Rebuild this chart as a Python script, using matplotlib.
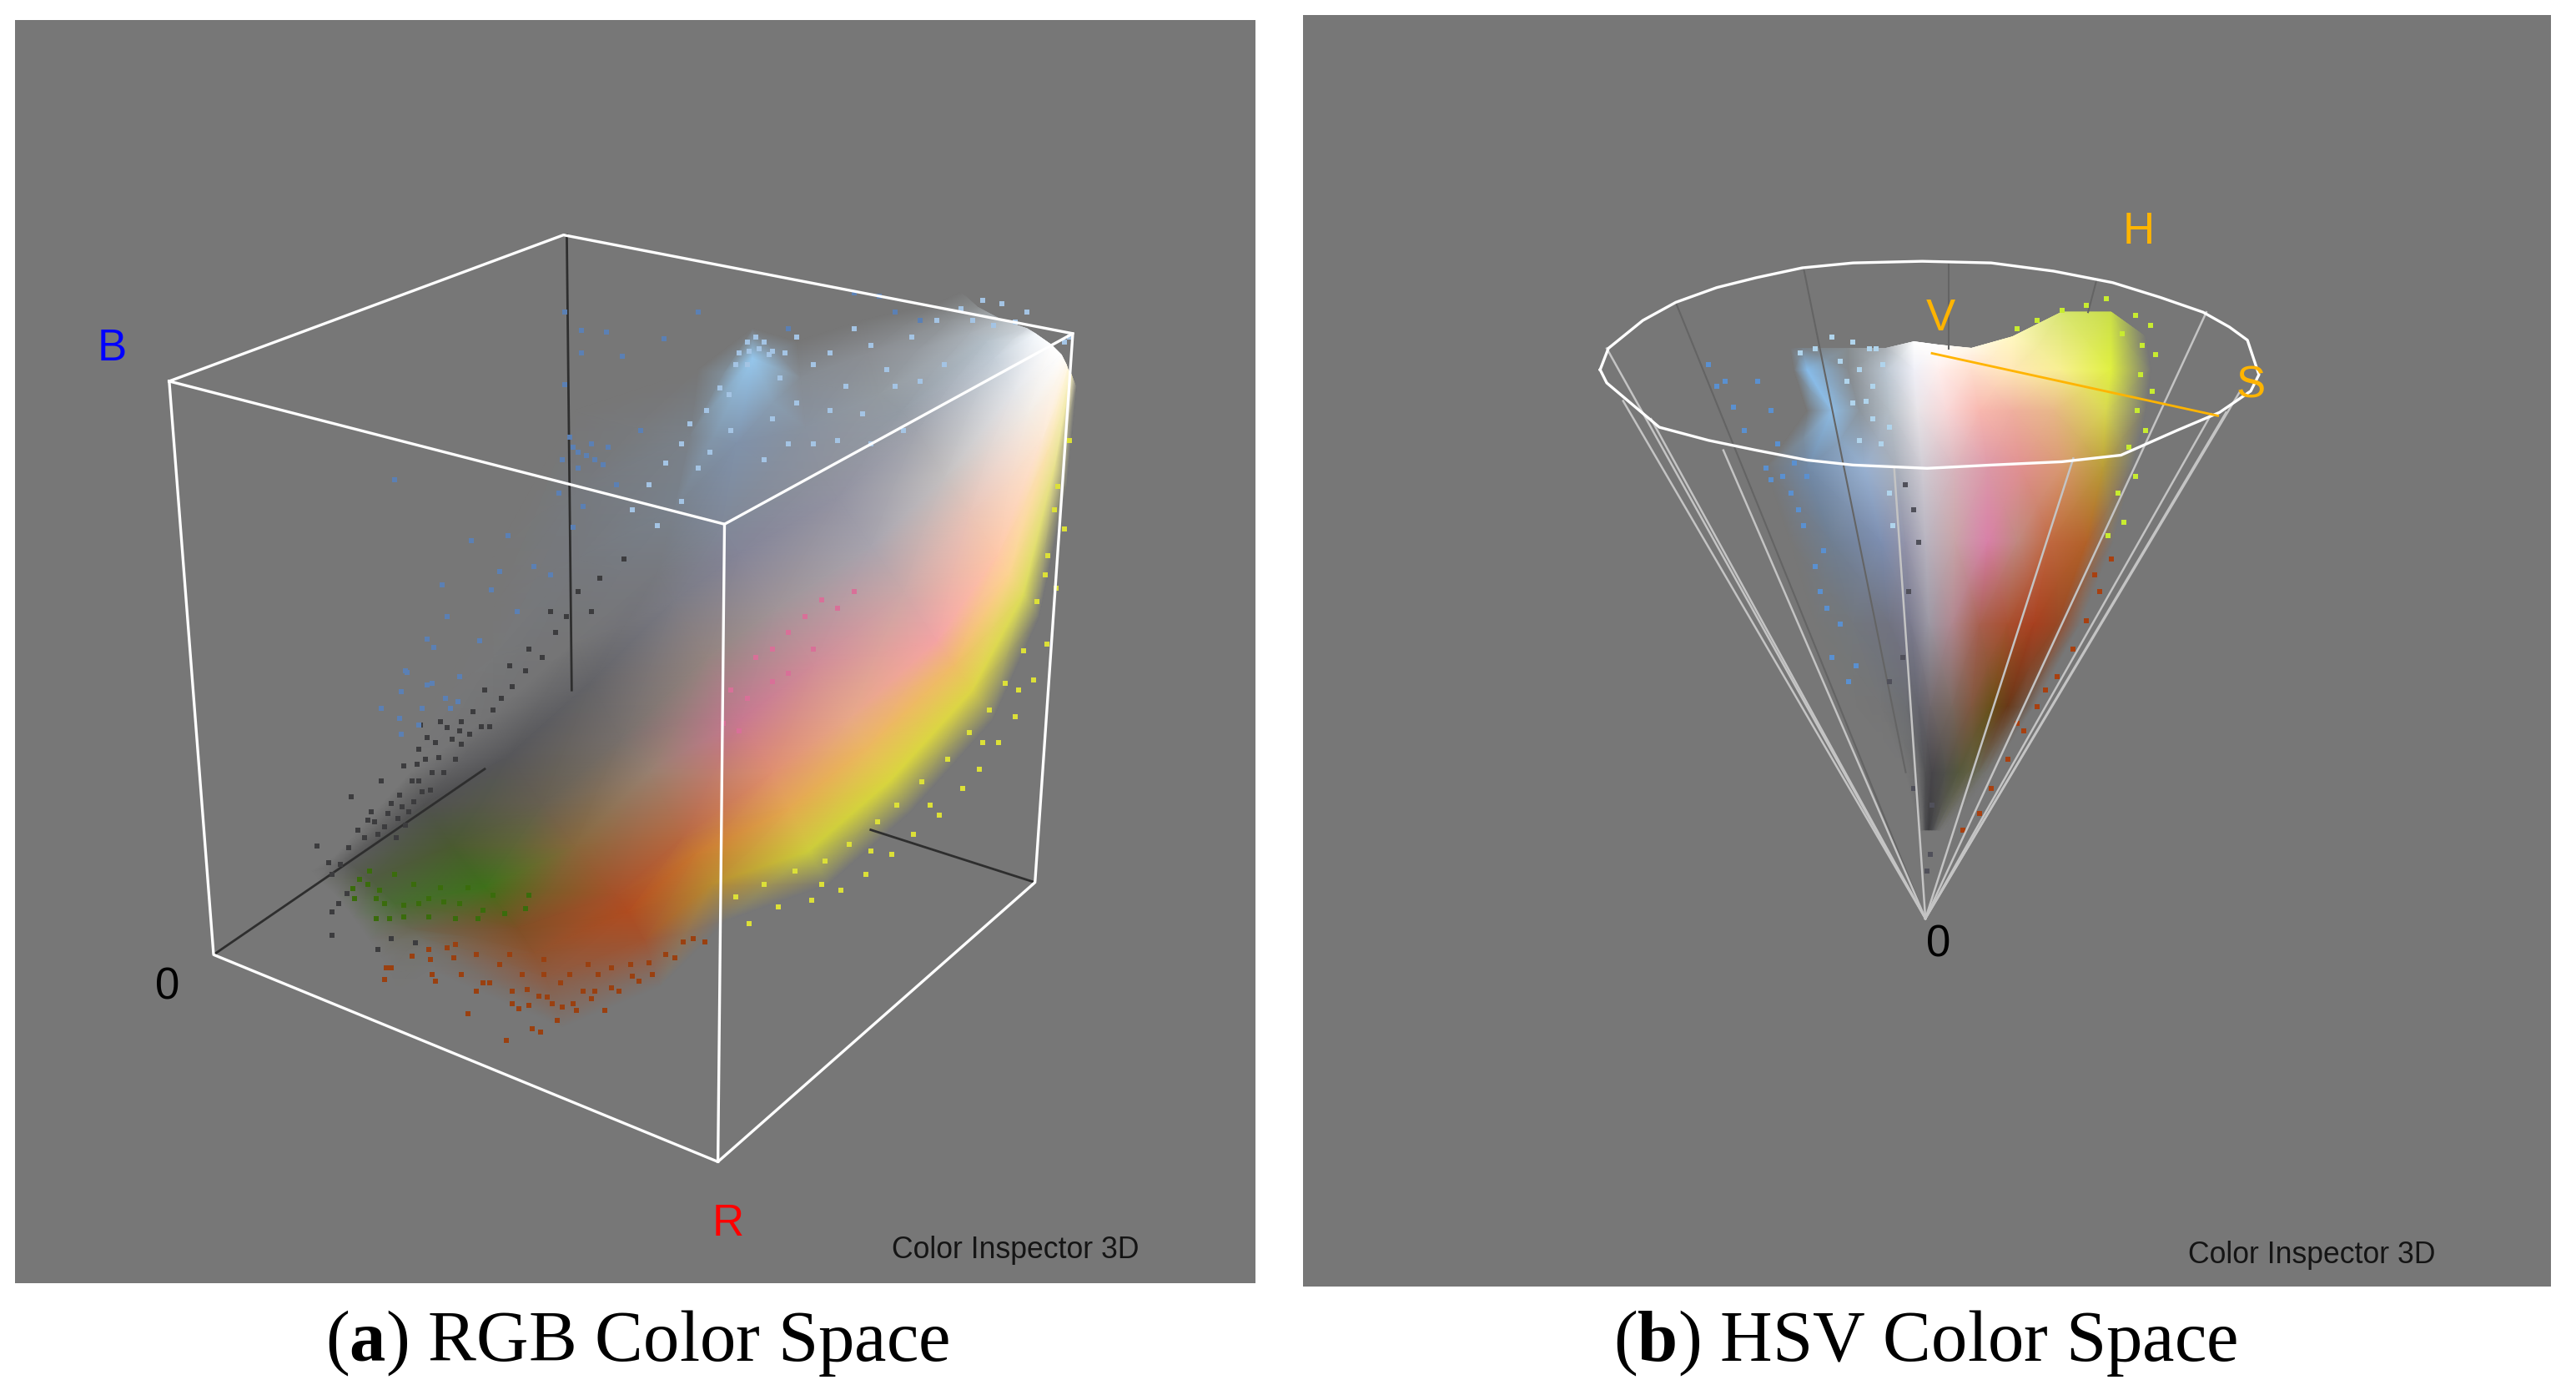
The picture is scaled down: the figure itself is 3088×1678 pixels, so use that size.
import matplotlib
matplotlib.use("Agg")
import matplotlib.pyplot as plt
import numpy as np
from matplotlib.colors import to_rgb

plt.rcParams["mathtext.fontset"] = "custom"
plt.rcParams["mathtext.rm"] = "Liberation Serif"
plt.rcParams["mathtext.bf"] = "Liberation Serif:bold"

panel_grey = "#777777"

# --- left panel: RGB cube ---
cube_front = [[(103, 232), (343, 143), (653, 203), (441, 319), (103, 232)],
              [(103, 232), (130, 581), (437, 707), (630, 537), (653, 203)],
              [(441, 319), (437, 707)]]
cube_back = [[(345, 143), (348, 420)], [(130, 581), (295, 468)], [(630, 537), (530, 505)]]

rgb_x = [[585, 595, 610, 625, 630, 640, 646, 649, 650, 652, 655],
         [570, 578, 590, 600, 605, 617, 625, 634, 638, 642, 649],
         [525, 528, 535, 549, 558, 575, 590, 607, 614, 623, 632],
         [485, 487, 490, 499, 510, 530, 550, 570, 581, 592, 604],
         [458, 458, 448, 439, 450, 472, 495, 517, 528, 542, 554],
         [425, 420, 410, 400, 410, 430, 450, 470, 480, 492, 504],
         [350, 350, 352, 350, 360, 378, 395, 415, 423, 433, 442],
         [300, 300, 300, 300, 310, 330, 350, 375, 382, 392, 402],
         [250, 250, 250, 250, 258, 275, 295, 315, 325, 332, 342],
         [205, 205, 205, 205, 212, 225, 240, 250, 255, 258, 262],
         [190, 190, 190, 190, 194, 205, 215, 225, 232, 238, 242]]
rgb_y = [[178, 187, 195, 200, 203, 210, 216, 222, 225, 228, 236],
         [185, 195, 203, 208, 218, 238, 252, 268, 274, 284, 296],
         [195, 215, 240, 250, 262, 290, 312, 338, 350, 362, 376],
         [208, 230, 260, 288, 303, 332, 360, 390, 405, 420, 438],
         [200, 218, 270, 320, 337, 370, 405, 437, 455, 475, 494],
         [225, 265, 310, 348, 366, 400, 439, 470, 492, 518, 538],
         [250, 300, 340, 391, 415, 450, 470, 510, 520, 538, 560],
         [340, 370, 400, 435, 460, 490, 515, 545, 555, 572, 600],
         [440, 450, 460, 470, 490, 515, 540, 565, 580, 595, 625],
         [505, 510, 515, 520, 525, 535, 550, 565, 570, 575, 590],
         [518, 522, 526, 530, 535, 545, 558, 572, 582, 592, 602]]
rgb_c = [["#dde8f0", "#dde8f0", "#dde8f0", "#e8eef4", "#f4f8fc", "#ffffff", "#ffffff", "#fffaf0", "#fff8e0", "#f8f0c0", "#f8f0c0"],
         ["#c8d4e0", "#c8d4e0", "#c8d4e0", "#c8d8e4", "#d0dce8", "#e4e6ea", "#f2ece6", "#fde8d4", "#fae4b0", "#f4ee90", "#e8e858"],
         ["#b8c4d4", "#b8c4d4", "#b0bcc8", "#a8b4c4", "#b0b4c0", "#c4c0c0", "#e8c4b8", "#ffc8a8", "#fcd490", "#e8e858", "#e8e858"],
         ["#a8bcd4", "#a8bcd4", "#a0b4d0", "#a0a8bc", "#9c9cb0", "#a8a4ae", "#cca8a8", "#f4a4a4", "#f0bc68", "#e8e040", "#e8e040"],
         ["#98ccf4", "#98ccf4", "#88a8d4", "#8898b8", "#8888a0", "#a09498", "#d08c98", "#e8a888", "#ecb860", "#e4e038", "#e4e038"],
         ["#88a8d0", "#88a8d0", "#7f9fc8", "#7880a0", "#7c7c88", "#948480", "#c87890", "#e09070", "#e4a850", "#dcdc30", "#dcdc30"],
         ["#6f8fc0", "#6f8fc0", "#6f8fc0", "#686870", "#5c5c62", "#78706c", "#988070", "#b86840", "#c87830", "#c89020", "#c89020"],
         ["#6f8fc0", "#6f8fc0", "#6f8fc0", "#505054", "#4c4c50", "#686050", "#88683c", "#a85028", "#b04c20", "#b04818", "#b04818"],
         ["#555558", "#555558", "#555558", "#444446", "#404042", "#4a5a30", "#387010", "#804818", "#984410", "#a04010", "#a04010"],
         ["#333333", "#333333", "#333333", "#333333", "#333333", "#3a4a20", "#2c6408", "#504810", "#504810", "#504810", "#504810"],
         ["#333333", "#333333", "#333333", "#333333", "#333333", "#3a4a20", "#2c6408", "#504810", "#504810", "#504810", "#504810"]]
rgb_a = [[0, .2, .6, .8, 1, 1, 1, 1, 1, 1, 0],
         [0, .3, .6, .75, .85, 1, 1, 1, 1, .9, 0],
         [0, .3, .5, .6, .75, 1, 1, 1, 1, .9, 0],
         [0, .3, .45, .55, .75, 1, 1, 1, 1, .9, 0],
         [0, .95, .55, .5, .8, 1, 1, 1, 1, .9, 0],
         [0, .2, .25, .2, .75, 1, 1, 1, 1, .85, 0],
         [0, .1, .1, .15, .7, 1, 1, 1, 1, .8, 0],
         [0, 0, .03, .1, .75, 1, 1, 1, 1, .75, 0],
         [0, 0, 0, 0, .7, 1, .9, .85, .7, .5, 0],
         [0, 0, 0, 0, .4, .6, .6, .35, .2, .1, 0],
         [0, 0, 0, 0, 0, 0, 0, 0, 0, 0, 0]]

a_dark = [(214, 485), (232, 475), (226, 494), (238, 489), (224, 499), (222, 510), (212, 516),
          (200, 525), (207, 526), (202, 532), (193, 515), (243, 484), (251, 475), (246, 466),
          (255, 456), (254, 465), (260, 449), (265, 452), (275, 450), (272, 443), (268, 439),
          (256, 441), (281, 453), (288, 433), (281, 439), (298, 442), (293, 442), (259, 462),
          (267, 461), (277, 462), (245, 491), (257, 482), (262, 481), (252, 488), (242, 498),
          (234, 503), (230, 508), (249, 494), (202, 569), (202, 555), (206, 550), (211, 544),
          (238, 571), (230, 578), (253, 574), (218, 505), (228, 500), (236, 495), (241, 510),
          (247, 502), (255, 475), (263, 470), (270, 470), (280, 445), (286, 447), (305, 425),
          (312, 418), (320, 408), (300, 432), (295, 420), (330, 400), (338, 385), (345, 375),
          (310, 405), (322, 395), (335, 372), (352, 360), (365, 352), (380, 340), (360, 372)]
a_blue = [(248, 409), (260, 417), (263, 416), (244, 421), (232, 431), (257, 431), (271, 425),
          (274, 431), (279, 427), (243, 437), (244, 447), (255, 441), (240, 292), (287, 329),
          (272, 375), (264, 394), (247, 408), (260, 389), (299, 359), (304, 348), (269, 356),
          (309, 326), (349, 321), (344, 190), (354, 201), (369, 202), (354, 215), (379, 217),
          (344, 234), (404, 206), (349, 272), (357, 277), (362, 280), (352, 285), (347, 266),
          (367, 283), (325, 345), (315, 372), (335, 350), (292, 390), (280, 412), (340, 300),
          (355, 308), (375, 295), (390, 262), (425, 190), (520, 178), (535, 180), (560, 195),
          (545, 190), (480, 200), (352, 275), (360, 270), (342, 280), (370, 272)]
a_light = [(450, 215), (455, 208), (460, 205), (465, 208), (470, 214), (448, 222), (455, 222),
           (462, 212), (456, 214), (468, 216), (475, 230), (444, 240), (438, 236), (478, 215),
           (485, 205), (495, 222), (505, 215), (520, 200), (530, 210), (515, 235), (540, 225),
           (555, 205), (570, 195), (585, 188), (598, 183), (610, 185), (625, 190), (592, 195),
           (605, 198), (618, 196), (430, 250), (420, 258), (415, 270), (405, 282), (432, 275),
           (425, 285), (445, 262), (470, 255), (485, 245), (505, 250), (525, 252), (545, 235),
           (560, 232), (575, 222), (395, 295), (385, 310), (400, 320), (415, 305), (465, 280),
           (480, 270), (495, 270), (510, 268), (530, 270), (550, 262), (651, 205), (648, 208)]
a_green = [(219, 535), (229, 547), (231, 542), (234, 550), (246, 551), (255, 550), (261, 547),
           (270, 549), (280, 550), (294, 554), (229, 559), (237, 559), (246, 558), (261, 558),
           (277, 559), (291, 559), (307, 556), (320, 553), (224, 538), (215, 541), (216, 547),
           (225, 530), (240, 532), (252, 538), (268, 540), (285, 540), (300, 545), (322, 545)]
a_brown = [(308, 633), (329, 628), (324, 626), (285, 617), (339, 621), (368, 615), (351, 615),
           (322, 612), (316, 614), (312, 611), (336, 611), (342, 613), (360, 608), (349, 611),
           (355, 603), (333, 607), (328, 606), (312, 603), (321, 602), (290, 603), (298, 598),
           (294, 598), (265, 597), (263, 593), (281, 593), (234, 596), (237, 589), (235, 589),
           (238, 589), (389, 597), (397, 593), (377, 603), (372, 601), (385, 594), (362, 603),
           (341, 598), (331, 593), (347, 593), (364, 593), (318, 593), (304, 587), (276, 583),
           (262, 584), (251, 582), (372, 589), (395, 586), (411, 583), (405, 581), (429, 573),
           (422, 571), (416, 573), (384, 587), (358, 587), (331, 584), (310, 581), (290, 581),
           (277, 575), (272, 577), (261, 578)]
a_yellow = [(651, 268), (644, 296), (648, 322), (638, 338), (643, 358), (631, 366), (637, 392),
            (623, 396), (629, 414), (612, 416), (618, 436), (602, 432), (608, 452), (590, 446),
            (596, 468), (577, 462), (586, 480), (561, 476), (572, 496), (546, 490), (556, 508),
            (534, 500), (543, 520), (517, 514), (527, 532), (502, 524), (512, 542), (484, 530),
            (494, 548), (465, 538), (474, 552), (448, 546), (456, 562), (636, 350), (620, 420),
            (598, 452), (566, 490), (530, 518), (500, 538), (642, 310)]
a_pink = [(460, 400), (470, 395), (480, 385), (490, 375), (500, 365), (445, 420), (455, 425),
          (470, 415), (480, 410), (495, 395), (510, 370), (520, 360), (440, 440), (450, 445)]

# --- right panel: HSV cone ---
rim_x = [974, 979, 1000, 1020, 1045, 1069, 1097, 1128, 1170, 1212, 1250, 1286, 1315, 1341, 1357, 1368, 1375, 1370,
         1351, 1325, 1291, 1255, 1212, 1173, 1128, 1100, 1069, 1040, 1010, 978, 974]
rim_y = [225, 212, 195, 184, 175, 169, 163, 160, 159, 160, 165, 172, 181, 190, 199, 207, 228, 238,
         251, 262, 277, 281, 283, 285, 283, 280, 274, 268, 260, 233, 225]
cone_apex = (1172, 559)
cone_front = [(978, 212), (988, 244), (1005, 255), (1049, 274), (1153, 285), (1262, 279),
              (1343, 190), (1346, 252), (1355, 251), (1363, 239)]
cone_back = [[(1020, 184), (1172, 559)], [(1098, 164), (1160, 470)],
             [(1186, 161), (1186, 212)], [(1276, 171), (1271, 190)]]

hsv_x = [[1090, 1097, 1125, 1148, 1165, 1180, 1200, 1225, 1255, 1285, 1306],
         [1092, 1100, 1125, 1148, 1165, 1180, 1200, 1225, 1255, 1285, 1309],
         [1100, 1115, 1132, 1150, 1167, 1185, 1205, 1225, 1250, 1282, 1306],
         [1075, 1100, 1135, 1155, 1170, 1190, 1210, 1230, 1255, 1280, 1298],
         [1090, 1115, 1145, 1160, 1172, 1190, 1210, 1228, 1248, 1270, 1286],
         [1105, 1128, 1150, 1163, 1174, 1188, 1205, 1222, 1238, 1252, 1266],
         [1130, 1145, 1160, 1168, 1175, 1188, 1200, 1212, 1222, 1230, 1238],
         [1150, 1160, 1168, 1172, 1176, 1184, 1192, 1198, 1204, 1208, 1212],
         [1165, 1168, 1170, 1172, 1174, 1176, 1178, 1180, 1182, 1184, 1186]]
hsv_y = [[212, 212, 212, 212, 208, 210, 212, 205, 190, 190, 205],
         [225] * 11, [250] * 11, [285] * 11, [330] * 11, [380] * 11, [430] * 11, [470] * 11, [505] * 11]
hsv_c = [["#88c0f0", "#88c0f0", "#c0dff0", "#e0ecf8", "#ffffff", "#ffffff", "#fff8e8", "#fff8c0", "#e8f870", "#d8f040", "#d0f030"],
         ["#88c0f0", "#88c0f0", "#c0dcf0", "#d8e8f8", "#f0f0f8", "#fff0ee", "#ffe0d0", "#ffe8b8", "#f8f090", "#e0f040", "#d8f040"],
         ["#88c0f0", "#90c4f0", "#b4cce4", "#d0dce8", "#e8e4e8", "#f8d8d8", "#f8b8b0", "#f0b0a0", "#e8b888", "#d8d850", "#c8e020"],
         ["#5a98e0", "#6aa0e0", "#a0c0e8", "#c0c8d8", "#d0ccd4", "#d8b4bc", "#dc98a8", "#e09090", "#d89870", "#c0a030", "#b0b020"],
         ["#6090d0", "#6090d0", "#8098c8", "#a0a0c0", "#b8b4c0", "#c8a4a8", "#d880a8", "#c08880", "#c06840", "#b86020", "#a06018"],
         ["#5a78a0", "#5a78a0", "#686c90", "#7c7c98", "#9c98a4", "#b08890", "#a86050", "#a85030", "#a84020", "#a03c10", "#903010"],
         ["#505868", "#505868", "#505868", "#5c5c68", "#70686c", "#7a6860", "#805840", "#685018", "#683818", "#683818", "#683818"],
         ["#404044", "#404044", "#404044", "#404044", "#48464a", "#50504a", "#4c5030", "#505020", "#505020", "#505020", "#505020"],
         ["#303034", "#303034", "#303034", "#303034", "#303034", "#303034", "#303034", "#303034", "#303034", "#303034", "#303034"]]
hsv_a = [[0, .15, .2, .5, 1, 1, 1, 1, .85, .85, 0],
         [0, .95, .2, .7, 1, 1, 1, 1, 1, 1, 0],
         [0, .9, .35, .7, 1, 1, 1, 1, 1, 1, 0],
         [0, .45, .8, .7, 1, 1, 1, 1, 1, .9, 0],
         [0, .3, .7, .7, 1, 1, 1, 1, 1, .9, 0],
         [0, .15, .4, .7, 1, 1, 1, 1, 1, .8, 0],
         [0, .05, .25, .7, 1, 1, 1, 1, 1, .6, 0],
         [0, 0, .2, .7, 1, 1, .8, .6, .3, .1, 0],
         [0, 0, .1, .6, .8, .6, .3, .1, 0, 0, 0]]

b_blue = [(1040, 222), (1045, 235), (1050, 232), (1055, 248), (1062, 262), (1070, 232),
          (1078, 250), (1082, 270), (1075, 285), (1090, 300), (1098, 320), (1105, 345),
          (1112, 370), (1120, 380), (1115, 400), (1125, 415), (1108, 360), (1130, 405),
          (1085, 290), (1092, 282), (1100, 290), (1078, 292), (1095, 310), (1110, 335)]
b_light = [(1096, 215), (1105, 212), (1115, 205), (1128, 208), (1138, 212), (1120, 220), (1132, 225),
           (1140, 235), (1128, 245), (1140, 255), (1132, 268), (1145, 270), (1150, 300), (1152, 320),
           (1124, 232), (1136, 244), (1146, 222), (1142, 212), (1150, 260)]
b_green = [(1292, 203), (1300, 192), (1309, 198), (1304, 210), (1312, 216), (1303, 228), (1310, 238),
           (1301, 250), (1306, 262), (1296, 272), (1300, 290), (1289, 300), (1293, 318), (1283, 326),
           (1255, 189), (1270, 186), (1282, 182), (1240, 195), (1228, 200)]
b_red = [(1285, 340), (1278, 360), (1270, 378), (1262, 395), (1252, 412), (1240, 430), (1232, 445),
         (1222, 462), (1212, 480), (1205, 495), (1195, 505), (1275, 350), (1245, 420), (1228, 440)]
b_grey = [(1160, 295), (1165, 310), (1168, 330), (1162, 360), (1158, 400), (1150, 415),
          (1175, 520), (1173, 530), (1176, 490), (1165, 480)]

panels = [(9, 12, 755, 769), (793, 9, 760, 774)]
labels = [("B", 68, 212, "#0000ff"), ("0", 102, 601, "black"), ("R", 443, 745, "#ff0000"),
          ("V", 1181, 194, "#ffb400"), ("H", 1302, 141, "#ffb400"), ("S", 1370, 235, "#ffb400"),
          ("0", 1180, 575, "black")]
footers = [(618, 761), (1407, 764)]
captions = [(198, r"($\mathbf{a}$) RGB Color Space"), (982, r"($\mathbf{b}$) HSV Color Space")]


def draw_mesh(ax, xs, ys, colors, alphas, z):
    # fade to the panel grey rather than use real alpha, agg leaves seams otherwise
    bg = np.array(to_rgb(panel_grey))
    rgb = np.array([[to_rgb(c) for c in row] for row in colors])
    a = np.array(alphas, float)[:, :, None]
    rgb = rgb * a + bg * (1 - a)
    for i in range(3):
        ax.pcolormesh(np.array(xs, float), np.array(ys, float), rgb, shading="gouraud", zorder=z)


def specks(ax, pts, color, z=5):
    p = np.array(pts)
    ax.scatter(p[:, 0], p[:, 1], s=13, marker="s", c=color, linewidths=0, zorder=z)


fig = plt.figure(figsize=(30.88, 16.78), dpi=100, facecolor="white")
ax = fig.add_axes([0, 0, 1, 1])
ax.set_xlim(0, 1568)
ax.set_ylim(852, 0)
ax.axis("off")

for x, y, w, h in panels:
    ax.add_patch(plt.Rectangle((x, y), w, h, facecolor=panel_grey, edgecolor="none", zorder=0))

# left panel
draw_mesh(ax, rgb_x, rgb_y, rgb_c, rgb_a, 2)
for seg in cube_back:
    s = np.array(seg)
    ax.plot(s[:, 0], s[:, 1], color="#2e2e2e", lw=2, zorder=3)
specks(ax, a_dark, "#3c3c3e")
specks(ax, a_blue, "#5b80b4")
specks(ax, a_light, "#a4c4e4")
specks(ax, a_green, "#3a6c0c")
specks(ax, a_brown, "#9a4010")
specks(ax, a_yellow, "#dce038")
specks(ax, a_pink, "#d87098")
for seg in cube_front:
    s = np.array(seg)
    ax.plot(s[:, 0], s[:, 1], color="white", lw=2.4, zorder=6)

# right panel
draw_mesh(ax, hsv_x, hsv_y, hsv_c, hsv_a, 2)
for seg in cone_back:
    s = np.array(seg)
    ax.plot(s[:, 0], s[:, 1], color="#646464", lw=1.5, zorder=3)
specks(ax, b_blue, "#5a90d0")
specks(ax, b_light, "#b0d4ec")
specks(ax, b_green, "#c8ec30")
specks(ax, b_red, "#a84010")
specks(ax, b_grey, "#50505a")
for p in cone_front:
    ax.plot([cone_apex[0], p[0]], [cone_apex[1], p[1]], color="#c4c4c4", lw=1.8, zorder=6)
ax.plot(rim_x, rim_y, color="white", lw=2.4, zorder=7)
ax.plot([1176, 1350], [215, 253], color="#ffb400", lw=2, zorder=8)

for txt, x, y, col in labels:
    ax.text(x, y, txt, color=col, fontsize=38, family="Liberation Sans", ha="center", va="center", zorder=9)
for x, y in footers:
    ax.text(x, y, "Color Inspector 3D", color="#151515", fontsize=25.7, family="Liberation Sans",
            ha="center", va="center", zorder=9)

# captions
for x, txt in captions:
    ax.text(x, 828, txt, fontsize=62.5, family="Liberation Serif", va="baseline", color="black", zorder=9)

fig.savefig("out.png", dpi=100, facecolor="white")
